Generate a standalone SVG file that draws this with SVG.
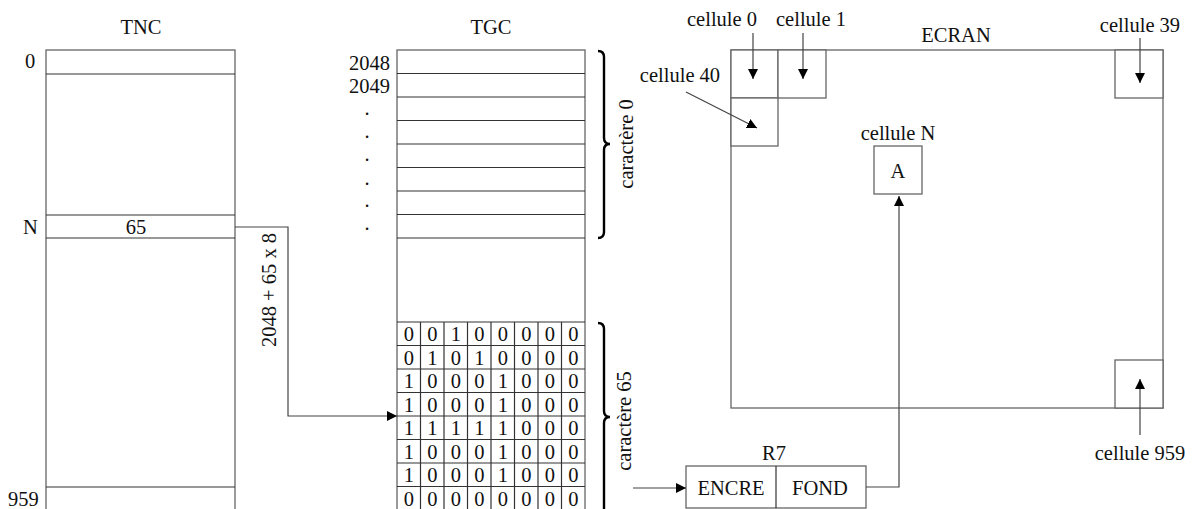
<svg xmlns="http://www.w3.org/2000/svg" width="1195" height="509" viewBox="0 0 1195 509">
<style>
  text { font-family: "Liberation Serif", "Times New Roman", serif; font-size: 20.5px; fill: #111; }
  .c { text-anchor: middle; }
  .r { text-anchor: end; }
  .box { fill: #fff; stroke: #666; stroke-width: 1.3; }
  .ln { stroke: #333; stroke-width: 1.2; fill: none; }
  .wire { stroke: #444; stroke-width: 1.2; fill: none; }
  .brace { stroke: #000; stroke-width: 2.4; fill: none; }
</style>
<defs>
  <marker id="arr" viewBox="0 0 10 10" refX="10" refY="5" markerWidth="10" markerHeight="10" markerUnits="userSpaceOnUse" orient="auto">
    <path d="M0,0 L10,5 L0,10 z" fill="#000"/>
  </marker>
</defs>

<!-- TNC table -->
<g id="tnc">
  <text class="c" x="141" y="34">TNC</text>
  <rect class="box" x="46" y="50" width="189" height="470"/>
  <line class="ln" x1="46" y1="74" x2="235" y2="74"/>
  <line class="ln" x1="46" y1="215" x2="235" y2="215"/>
  <line class="ln" x1="46" y1="238" x2="235" y2="238"/>
  <line class="ln" x1="46" y1="487" x2="235" y2="487"/>
  <text x="25" y="68">0</text>
  <text x="23" y="234">N</text>
  <text class="c" x="136" y="234">65</text>
  <text x="8" y="506">959</text>
</g>

<!-- TGC table -->
<g id="tgc">
  <text class="c" x="491" y="34">TGC</text>
  <rect class="box" x="397" y="50" width="188" height="470"/>
  <g class="ln">
    <line x1="397" y1="73.5" x2="585" y2="73.5"/>
    <line x1="397" y1="97" x2="585" y2="97"/>
    <line x1="397" y1="120.5" x2="585" y2="120.5"/>
    <line x1="397" y1="144" x2="585" y2="144"/>
    <line x1="397" y1="167.5" x2="585" y2="167.5"/>
    <line x1="397" y1="191" x2="585" y2="191"/>
    <line x1="397" y1="214.5" x2="585" y2="214.5"/>
    <line x1="397" y1="238" x2="585" y2="238"/>
  </g>
  <text class="r" x="390" y="70">2048</text>
  <text class="r" x="390" y="93">2049</text>
  <text class="c" x="367" y="115">.</text>
  <text class="c" x="367" y="138">.</text>
  <text class="c" x="367" y="161">.</text>
  <text class="c" x="367" y="185">.</text>
  <text class="c" x="367" y="207">.</text>
  <text class="c" x="367" y="230">.</text>
</g>

<!-- bitmap of character 65 -->
<g id="glyph65">
  <g class="ln">
    <line x1="397" y1="322" x2="585" y2="322"/>
    <line x1="397" y1="345.5" x2="585" y2="345.5"/>
    <line x1="397" y1="369" x2="585" y2="369"/>
    <line x1="397" y1="392.5" x2="585" y2="392.5"/>
    <line x1="397" y1="416" x2="585" y2="416"/>
    <line x1="397" y1="439.5" x2="585" y2="439.5"/>
    <line x1="397" y1="463" x2="585" y2="463"/>
    <line x1="397" y1="486.5" x2="585" y2="486.5"/>
    <line x1="420.5" y1="322" x2="420.5" y2="510"/>
    <line x1="444" y1="322" x2="444" y2="510"/>
    <line x1="467.5" y1="322" x2="467.5" y2="510"/>
    <line x1="491" y1="322" x2="491" y2="510"/>
    <line x1="514.5" y1="322" x2="514.5" y2="510"/>
    <line x1="538" y1="322" x2="538" y2="510"/>
    <line x1="561.5" y1="322" x2="561.5" y2="510"/>
  </g>
  <text class="c" x="408.75" y="341">0</text><text class="c" x="432.25" y="341">0</text><text class="c" x="455.75" y="341">1</text><text class="c" x="479.25" y="341">0</text><text class="c" x="502.75" y="341">0</text><text class="c" x="526.25" y="341">0</text><text class="c" x="549.75" y="341">0</text><text class="c" x="573.25" y="341">0</text>
  <text class="c" x="408.75" y="364.5">0</text><text class="c" x="432.25" y="364.5">1</text><text class="c" x="455.75" y="364.5">0</text><text class="c" x="479.25" y="364.5">1</text><text class="c" x="502.75" y="364.5">0</text><text class="c" x="526.25" y="364.5">0</text><text class="c" x="549.75" y="364.5">0</text><text class="c" x="573.25" y="364.5">0</text>
  <text class="c" x="408.75" y="388">1</text><text class="c" x="432.25" y="388">0</text><text class="c" x="455.75" y="388">0</text><text class="c" x="479.25" y="388">0</text><text class="c" x="502.75" y="388">1</text><text class="c" x="526.25" y="388">0</text><text class="c" x="549.75" y="388">0</text><text class="c" x="573.25" y="388">0</text>
  <text class="c" x="408.75" y="411.5">1</text><text class="c" x="432.25" y="411.5">0</text><text class="c" x="455.75" y="411.5">0</text><text class="c" x="479.25" y="411.5">0</text><text class="c" x="502.75" y="411.5">1</text><text class="c" x="526.25" y="411.5">0</text><text class="c" x="549.75" y="411.5">0</text><text class="c" x="573.25" y="411.5">0</text>
  <text class="c" x="408.75" y="435">1</text><text class="c" x="432.25" y="435">1</text><text class="c" x="455.75" y="435">1</text><text class="c" x="479.25" y="435">1</text><text class="c" x="502.75" y="435">1</text><text class="c" x="526.25" y="435">0</text><text class="c" x="549.75" y="435">0</text><text class="c" x="573.25" y="435">0</text>
  <text class="c" x="408.75" y="458.5">1</text><text class="c" x="432.25" y="458.5">0</text><text class="c" x="455.75" y="458.5">0</text><text class="c" x="479.25" y="458.5">0</text><text class="c" x="502.75" y="458.5">1</text><text class="c" x="526.25" y="458.5">0</text><text class="c" x="549.75" y="458.5">0</text><text class="c" x="573.25" y="458.5">0</text>
  <text class="c" x="408.75" y="482">1</text><text class="c" x="432.25" y="482">0</text><text class="c" x="455.75" y="482">0</text><text class="c" x="479.25" y="482">0</text><text class="c" x="502.75" y="482">1</text><text class="c" x="526.25" y="482">0</text><text class="c" x="549.75" y="482">0</text><text class="c" x="573.25" y="482">0</text>
  <text class="c" x="408.75" y="505.5">0</text><text class="c" x="432.25" y="505.5">0</text><text class="c" x="455.75" y="505.5">0</text><text class="c" x="479.25" y="505.5">0</text><text class="c" x="502.75" y="505.5">0</text><text class="c" x="526.25" y="505.5">0</text><text class="c" x="549.75" y="505.5">0</text><text class="c" x="573.25" y="505.5">0</text>
</g>

<!-- braces -->
<g id="brace0">
  <path class="brace" d="M598,51 Q604,51 604,57 L604,138 Q604,144 610,144 Q604,144 604,150 L604,232 Q604,238 598,238"/>
  <text class="c" transform="translate(633,144) rotate(-90)">caractère 0</text>
</g>
<g id="brace65">
  <path class="brace" d="M598,323 Q604,323 604,329 L604,411 Q604,417 610,417 Q604,417 604,423 L604,515"/>
  <text class="c" transform="translate(631,421) rotate(-90)">caractère 65</text>
</g>

<!-- screen -->
<g id="ecran">
  <text class="c" x="956" y="42">ECRAN</text>
  <rect class="box" x="731" y="50" width="432" height="358"/>
  <rect class="box" x="731" y="50" width="47" height="48"/>
  <rect class="box" x="778" y="50" width="48" height="48"/>
  <rect class="box" x="731" y="98" width="47" height="48"/>
  <rect class="box" x="1115" y="50" width="48" height="48"/>
  <rect class="box" x="1115" y="360" width="48" height="48"/>
</g>
<g id="celluleN">
  <text class="c" x="898" y="140">cellule N</text>
  <rect class="box" x="874" y="146" width="48" height="48"/>
  <text class="c" x="898" y="178">A</text>
</g>
<g id="labels">
  <text class="c" x="722" y="26">cellule 0</text>
  <text class="c" x="811" y="26">cellule 1</text>
  <text class="c" x="680" y="82">cellule 40</text>
  <text class="c" x="1140" y="32">cellule 39</text>
  <text class="c" x="1140" y="460">cellule 959</text>
</g>

<!-- R7 register -->
<g id="r7">
  <text class="c" x="774" y="460">R7</text>
  <rect class="box" x="686" y="466" width="180" height="42"/>
  <line class="ln" x1="776" y1="466" x2="776" y2="508"/>
  <text class="c" x="731" y="495">ENCRE</text>
  <text class="c" x="820" y="495">FOND</text>
</g>

<!-- connectors -->
<g id="connectors">
  <path class="wire" d="M235,227 H288 V416 H397" marker-end="url(#arr)"/>
  <text class="c" transform="translate(276,290) rotate(-90)">2048 + 65 x 8</text>
  <path class="wire" d="M866,487 H899 V196" marker-end="url(#arr)"/>
  <path class="wire" d="M633,488 H686" marker-end="url(#arr)"/>
  <path class="wire" d="M753,33 V79" marker-end="url(#arr)"/>
  <path class="wire" d="M803,33 V79" marker-end="url(#arr)"/>
  <path class="wire" d="M686,92 L757,128" marker-end="url(#arr)"/>
  <path class="wire" d="M1140,38 V83" marker-end="url(#arr)"/>
  <path class="wire" d="M1140,435 V379" marker-end="url(#arr)"/>
</g>
</svg>
